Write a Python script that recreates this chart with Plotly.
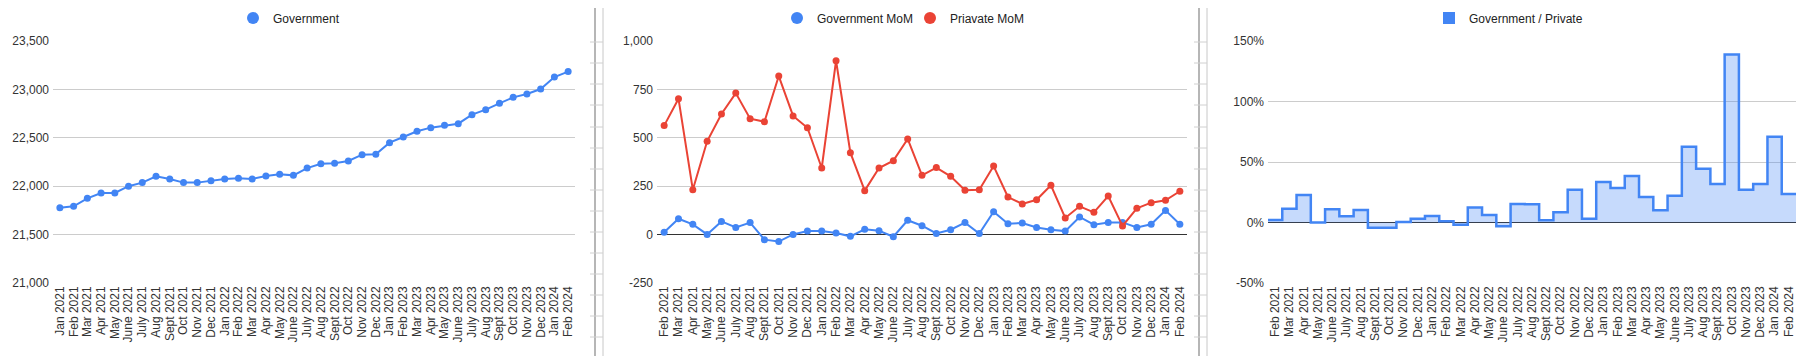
import plotly.graph_objects as go

# ---------------- data ----------------
months_level = ["Jan 2021", "Feb 2021", "Mar 2021", "Apr 2021", "May 2021", "June 2021", "July 2021",
                "Aug 2021", "Sept 2021", "Oct 2021", "Nov 2021", "Dec 2021", "Jan 2022", "Feb 2022",
                "Mar 2022", "Apr 2022", "May 2022", "June 2022", "July 2022", "Aug 2022", "Sept 2022",
                "Oct 2022", "Nov 2022", "Dec 2022", "Jan 2023", "Feb 2023", "Mar 2023", "Apr 2023",
                "May 2023", "June 2023", "July 2023", "Aug 2023", "Sept 2023", "Oct 2023", "Nov 2023",
                "Dec 2023", "Jan 2024", "Feb 2024"]
months_mom = months_level[1:]

government = [21778, 21792, 21875, 21930, 21930, 22000, 22037, 22102, 22075, 22037, 22037, 22057,
              22075, 22081, 22075, 22106, 22123, 22112, 22187, 22232, 22236, 22260, 22326, 22329,
              22450, 22508, 22567, 22605, 22629, 22646, 22739, 22791, 22856, 22918, 22953, 23004,
              23128, 23184]

government_mom = [12, 82, 53, 1, 68, 37, 62, -26, -36, 1, 18,
                  18, 8, -9, 27, 20, -11, 74, 46, 6, 25, 62, 6,
                  118, 56, 60, 37, 25, 18, 91, 51, 63, 63, 37, 53,
                  125, 53]

private_mom = [563, 702, 232, 482, 623, 731, 599, 583, 819, 613, 552,
               344, 898, 423, 227, 344, 382, 494, 306, 346, 301, 229, 232,
               354, 194, 158, 180, 255, 86, 146, 115, 199, 45, 136, 165,
               177, 224]

ratio_pct = [2.1, 11.4, 22.7, 0.1, 10.9, 5.1, 10.3, -4.3, -4.3, 0.4, 3.2,
             5.4, 1.0, -1.8, 12.3, 6.2, -3.2, 15.3, 15.0, 1.8, 8.4, 27.1, 3.2,
             33.5, 28.5, 38.4, 21.1, 10.1, 22.2, 62.7, 44.5, 31.8, 138.8, 27.1, 31.8,
             70.9, 23.6]

y1_ticks = [21000, 21500, 22000, 22500, 23000, 23500]
y1_text = ["21,000", "21,500", "22,000", "22,500", "23,000", "23,500"]
y2_ticks = [-250, 0, 250, 500, 750, 1000]
y2_text = ["-250", "0", "250", "500", "750", "1,000"]
y3_ticks = [-50, 0, 50, 100, 150]
y3_text = ["-50%", "0%", "50%", "100%", "150%"]

# ---------------- style ----------------
W, H = 1806, 356
OFF = 8          # page body margin offsets the figure by 8px
T, B = 41 - OFF, H - (283 - OFF)
BLUE = "#4285F4"
RED = "#EA4335"
GRID = "#cccccc"
TICKC = "#333333"
FONT = "Arial, Liberation Sans, sans-serif"
PH = H - T - B


def px_x(p):
    """screen pixel x -> paper fraction"""
    return (p - OFF) / W


def px_y(p):
    """screen pixel y -> paper fraction"""
    return (H - B - (p - OFF)) / PH


fig = go.Figure()

# Panel 1
fig.add_trace(go.Scatter(x=months_level, y=government, mode="lines+markers",
                         line=dict(color=BLUE, width=2), marker=dict(size=7, color=BLUE),
                         xaxis="x", yaxis="y", showlegend=False, cliponaxis=False))
fig.add_trace(go.Scatter(x=[None], y=[None], mode="markers", name="Government",
                         marker=dict(size=12, color=BLUE, symbol="circle"),
                         xaxis="x", yaxis="y", legend="legend"))

# Panel 2
fig.add_trace(go.Scatter(x=months_mom, y=government_mom, mode="lines+markers",
                         line=dict(color=BLUE, width=2), marker=dict(size=7, color=BLUE),
                         xaxis="x2", yaxis="y2", showlegend=False, cliponaxis=False))
fig.add_trace(go.Scatter(x=months_mom, y=private_mom, mode="lines+markers",
                         line=dict(color=RED, width=2), marker=dict(size=7, color=RED),
                         xaxis="x2", yaxis="y2", showlegend=False, cliponaxis=False))
fig.add_trace(go.Scatter(x=[None], y=[None], mode="markers", name="Government MoM",
                         marker=dict(size=12, color=BLUE), xaxis="x2", yaxis="y2", legend="legend2"))
fig.add_trace(go.Scatter(x=[None], y=[None], mode="markers", name="Priavate MoM",
                         marker=dict(size=12, color=RED), xaxis="x2", yaxis="y2", legend="legend2"))

# Panel 3 (stepped area: each step covers its category band)
n = len(ratio_pct)
step_x = [i - 0.5 for i in range(n + 1)]
step_y = ratio_pct + [ratio_pct[-1]]
fig.add_trace(go.Scatter(x=step_x, y=step_y, mode="lines", line=dict(color=BLUE, width=2.5, shape="hv"),
                         fill="tozeroy", fillcolor="rgba(66,133,244,0.3)",
                         xaxis="x3", yaxis="y3", showlegend=False))
fig.add_trace(go.Scatter(x=[None], y=[None], mode="markers", name="Government / Private",
                         marker=dict(size=12, color=BLUE, symbol="square"),
                         xaxis="x3", yaxis="y3", legend="legend3"))

xcommon = dict(tickangle=-90, showgrid=False, showline=False, zeroline=False, ticks="",
               tickfont=dict(family=FONT, size=12, color=TICKC), fixedrange=True,
               automargin=False, ticklabeloverflow="allow")
ycommon = dict(showgrid=True, gridcolor=GRID, gridwidth=1, showline=False, ticks="",
               tickfont=dict(family=FONT, size=12, color=TICKC), domain=[0, 1], fixedrange=True,
               automargin=False, ticklabelstandoff=3)

legcommon = dict(orientation="h", yanchor="middle", xanchor="left", bgcolor="rgba(0,0,0,0)",
                 font=dict(family=FONT, size=12, color="#222222"), itemsizing="constant")

fig.update_layout(
    template="none",
    width=W, height=H, autosize=False,
    margin=dict(l=0, r=0, t=T, b=B, autoexpand=False),
    paper_bgcolor="white", plot_bgcolor="white",
    font=dict(family=FONT, size=12, color=TICKC),
    xaxis=dict(xcommon, domain=[px_x(53), px_x(575)], anchor="y", type="category",
               range=[-0.5, len(months_level) - 0.5], tickmode="array", tickvals=months_level),
    yaxis=dict(ycommon, anchor="x", range=[21000, 23500], tickvals=y1_ticks, ticktext=y1_text,
               zeroline=False),
    xaxis2=dict(xcommon, domain=[px_x(657), px_x(1187)], anchor="y2", type="category",
                range=[-0.5, len(months_mom) - 0.5], tickmode="array", tickvals=months_mom),
    yaxis2=dict(ycommon, anchor="x2", range=[-250, 1000], tickvals=y2_ticks, ticktext=y2_text,
                zeroline=True, zerolinecolor="#333333", zerolinewidth=1),
    xaxis3=dict(xcommon, domain=[px_x(1268), px_x(1796)], anchor="y3", type="linear",
                range=[-0.5, n - 0.5], tickmode="array", tickvals=list(range(n)), ticktext=months_mom),
    yaxis3=dict(ycommon, anchor="x3", range=[-50, 150], tickvals=y3_ticks, ticktext=y3_text,
                zeroline=True, zerolinecolor="#333333", zerolinewidth=1),
    legend=dict(legcommon, x=px_x(233), y=px_y(18)),
    legend2=dict(legcommon, x=px_x(777), y=px_y(18), entrywidth=88, entrywidthmode="pixels"),
    legend3=dict(legcommon, x=px_x(1429), y=px_y(18)),
)

# spreadsheet cell borders between the charts
rows = [42, 63, 84, 105, 127, 148, 169, 190, 211, 232, 253, 274, 295, 316, 337]
shapes = []
for (a, b) in [(595, 603), (1199, 1207)]:
    shapes.append(dict(type="line", xref="paper", yref="paper", x0=px_x(a), x1=px_x(a),
                       y0=px_y(0), y1=px_y(H + 10), line=dict(color="#9e9e9e", width=1.5)))
    shapes.append(dict(type="line", xref="paper", yref="paper", x0=px_x(b), x1=px_x(b),
                       y0=px_y(0), y1=px_y(H + 10), line=dict(color="#c8c8c8", width=1)))
    for r in rows:
        shapes.append(dict(type="line", xref="paper", yref="paper", x0=px_x(a - 5), x1=px_x(b),
                           y0=px_y(r), y1=px_y(r), line=dict(color="#d0d0d0", width=1)))
fig.update_layout(shapes=shapes)

fig.write_html("out.html", config={"displayModeBar": False})
